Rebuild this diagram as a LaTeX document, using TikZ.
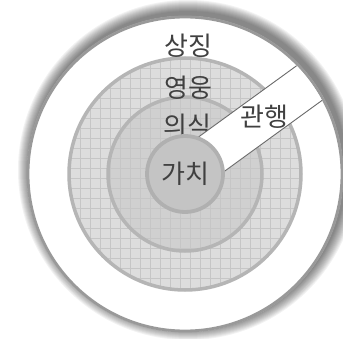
\documentclass[tikz,border=0pt]{standalone}
\usepackage{fontspec}
\newfontfamily\krfont{Noto Sans CJK KR}
\usetikzlibrary{positioning}

\begin{document}
\begin{tikzpicture}[x=1pt, y=1pt,
  ringline/.style={line width=3.5pt, draw=gray!58},
  word/.style={font=\krfont\fontsize{26}{30}\selectfont, text=black!75, inner sep=0pt},
  bandline/.style={draw=black!58, line width=0.9pt}
]
\useasboundingbox (0,0) rectangle (343,338);
\coordinate (c) at (185,164);
\coordinate (s) at (188,168);
\foreach \i in {12,...,1} {
  \fill[black, opacity=0.05] (s) circle (158+\i);
}
\fill[white] (c) circle (158);
\fill[gray!27] (c) circle (116);
\fill[gray!37] (c) circle (77);
\begin{scope}
  \clip (c) circle (116);
  \draw[gray!45, line width=0.35pt, step=10] (60,40) grid (310,290);
\end{scope}
\draw[line width=2.8pt, draw=gray!80] (c) circle (157);
\draw[ringline] (c) circle (116);
\draw[ringline] (c) circle (77);
\node[word] (sangjing) at (188,292) {상징};
\node[word] (yeongung) at (188,250) {영웅};
\node[word] (uisik) at (187,212) {의식};
\begin{scope}
  \clip (c) circle (155.5);
  \begin{scope}[shift={(c)}, rotate=36]
    \fill[white] (0,-21) rectangle (160,22);
    \draw[bandline] (0,22) -- (160,22);
    \draw[bandline] (0,-21) -- (160,-21);
  \end{scope}
\end{scope}
\fill[gray!46] (c) circle (38);
\draw[line width=3.8pt, draw=gray!62] (c) circle (38);
\node[word] (gachi) at (185,164) {가치};
\node[word] (gwanhaeng) at (264,221) {관행};
\end{tikzpicture}
\end{document}
